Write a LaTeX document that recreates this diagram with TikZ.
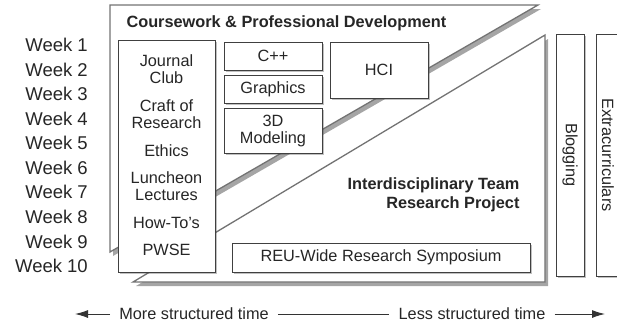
\documentclass[tikz,border=0pt]{standalone}
\usepackage{fontspec}
\setmainfont{Liberation Sans}
\usetikzlibrary{positioning, arrows.meta, shadows}

\begin{document}
\begin{tikzpicture}[x=1pt, y=-1pt,
     every node/.style={font=\fontsize{16.3}{17}\selectfont, text=black!85},
     tri/.style={draw=black!55, line width=1.3pt, fill=white, line join=miter,
       drop shadow={shadow xshift=3pt, shadow yshift=-4pt, opacity=0.5, fill=black!70}},
     box/.style={draw=black!75, line width=1pt, fill=white, inner sep=0pt, align=center,
       drop shadow={shadow xshift=1.5pt, shadow yshift=-2pt, opacity=0.35, fill=black!70}},
     item/.style={align=center, inner sep=0pt},
     timeline/.style={line width=1pt, black!80, -{Latex[length=13pt, width=8pt]}}]
     \useasboundingbox (0,0) rectangle (617,327);
     \clip (0,0) rectangle (617,327);
     % the two big triangles
     \path[tri] (133,282) -- (545,35) -- (545,282) -- cycle;
     \path[tri] (110,5) -- (538,5) -- (110,252) -- cycle;
     \node[anchor=west, font=\fontsize{16.3}{17}\selectfont\bfseries] (cpd) at (123,23)
     {Coursework \& Professional Development};
     \node[anchor=east, align=right, font=\fontsize{16.3}{18.5}\selectfont\bfseries] (itrp) at (523,195)
     {Interdisciplinary Team\\Research Project};
     % weeks
     \foreach \i in {1,...,10}
       \node[anchor=east, inner sep=0pt, font=\fontsize{18.5}{20}\selectfont] (w\i) at (88,{45+(\i-1)*24.56}) {Week \i};
     % boxes
     \node[box, minimum width=97pt, minimum height=232pt] (prof) at (166.5,156) {};
     \node[item] (jc) at (166.5,69.5) {Journal\\Club};
     \node[item] (craft) at (166.5,114.5) {Craft of\\Research};
     \node[item] (ethics) at (166.5,151) {Ethics};
     \node[item] (lunch) at (166.5,186.5) {Luncheon\\Lectures};
     \node[item] (howto) at (166.5,223) {How-To\symbol{39}s};
     \node[item] (pwse) at (166.5,250) {PWSE};
     \node[box, minimum width=98pt, minimum height=28pt] (cpp) at (273,56) {C++};
     \node[box, minimum width=98pt, minimum height=28pt] (gfx) at (273,89) {Graphics};
     \node[box, minimum width=98pt, minimum height=45pt] (model) at (273,130.5) {3D\\Modeling};
     \node[box, minimum width=98pt, minimum height=56pt] (hci) at (379,70) {HCI};
     \node[box, minimum width=298pt, minimum height=29pt] (reu) at (381,257.5) {REU-Wide Research Symposium};
     \node[box, minimum width=28pt, minimum height=242pt] (blog) at (570,155) {};
     \node[rotate=-90] at (blog.center) {Blogging};
     \node[box, minimum width=28pt, minimum height=242pt] (extra) at (610,155) {};
     \node[rotate=-90] at (608,155) {Extracurriculars};
     % time axis
     \coordinate (lend) at (75,314);
     \coordinate (rend) at (605,314);
     \node[inner sep=9pt] (more) at (194,314) {More structured time};
     \node[inner sep=9pt] (less) at (472,314) {Less structured time};
     \draw[timeline] (more) -- (lend);
     \draw[line width=1pt, black!80] (more) -- (less);
     \draw[timeline] (less) -- (rend);
   \end{tikzpicture}
\end{document}
